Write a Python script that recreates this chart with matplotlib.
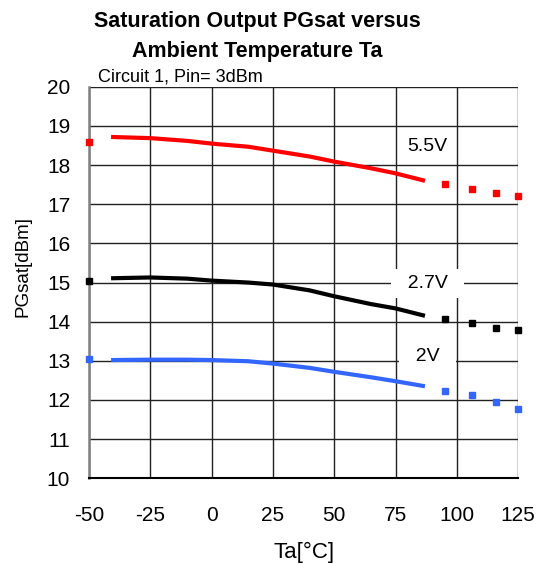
import matplotlib
matplotlib.use("Agg")
import matplotlib.pyplot as plt

plt.rcParams['font.family'] = ['Liberation Sans', 'DejaVu Sans']
plt.rcParams['axes.unicode_minus'] = False

# Solid (measured) portions
ta_solid = [-41, -25, -10, 0, 15, 25, 40, 50, 65, 75, 87]
pg_55 = [18.72, 18.69, 18.62, 18.55, 18.47, 18.37, 18.22, 18.09, 17.92, 17.79, 17.60]
pg_27 = [15.11, 15.13, 15.10, 15.05, 15.00, 14.95, 14.80, 14.65, 14.45, 14.34, 14.15]
pg_2 = [13.02, 13.03, 13.03, 13.02, 12.99, 12.93, 12.82, 12.72, 12.58, 12.48, 12.35]

# Dotted (extrapolated) points
ta_dot = [-50, 95, 106, 116, 125]
pg_55_dot = [18.60, 17.52, 17.39, 17.30, 17.21]
pg_27_dot = [15.04, 14.07, 13.96, 13.85, 13.79]
pg_2_dot = [13.04, 12.23, 12.12, 11.94, 11.78]

labels = ["5.5V", "2.7V", "2V"]
label_x = 88
label_y = [18.47, 14.97, 13.10]
label_boxed = [False, True, True]
colors = ["#FF0000", "#000000", "#3366FF"]

x_ticks = [-50, -25, 0, 25, 50, 75, 100, 125]
y_ticks = list(range(10, 21))

fig = plt.figure(figsize=(5.46, 5.64), dpi=100)
ax = fig.add_axes([0.163, 0.152, 0.786, 0.694])

for ys, yd, c in zip([pg_55, pg_27, pg_2], [pg_55_dot, pg_27_dot, pg_2_dot], colors):
    ax.plot(ta_solid, ys, color=c, lw=3, solid_capstyle='butt', zorder=3)
    ax.plot(ta_dot, yd, ls='none', marker='s', ms=3.8, color=c, mec=c, zorder=3, clip_on=False)

for lab, ly, boxed in zip(labels, label_y, label_boxed):
    if boxed:
        ax.text(label_x, ly, "  " + lab + "  ", fontsize=14, ha='center', va='center', zorder=4,
                bbox=dict(boxstyle='square,pad=0.3', facecolor='white', edgecolor='none'))
    else:
        ax.text(label_x, ly, lab, fontsize=14, ha='center', va='center', zorder=4)

ax.set_xlim(-50, 125)
ax.set_ylim(10, 20)
ax.set_xticks(x_ticks)
ax.set_yticks(y_ticks)
ax.tick_params(labelsize=15, length=0)
ax.tick_params(axis='x', pad=20)
ax.tick_params(axis='y', pad=13.5)
ax.grid(True, color='#222222', lw=1)
for s in ['top', 'right']:
    ax.spines[s].set_visible(False)
ax.spines['left'].set_color('#808080')
ax.spines['left'].set_linewidth(1.8)
ax.spines['bottom'].set_color('#000000')
ax.spines['bottom'].set_linewidth(1.5)

fig.text(304/546, 1 - 558/564, 'Ta[°C]', fontsize=16, ha='center', va='baseline')
fig.text(23/546, 1 - 267/564, 'PGsat[dBm]', fontsize=13.5, ha='center', va='center', rotation=90)

fig.text(257/546, 1 - 27.3/564, 'Saturation Output PGsat versus', fontsize=15.5,
         fontweight='bold', ha='center', va='baseline')
fig.text(257/546, 1 - 57.3/564, 'Ambient Temperature Ta', fontsize=15.5,
         fontweight='bold', ha='center', va='baseline')
fig.text(98/546, 1 - 81/564, 'Circuit 1, Pin= 3dBm', fontsize=13, ha='left', va='baseline')

fig.savefig('out.png', dpi=100)
